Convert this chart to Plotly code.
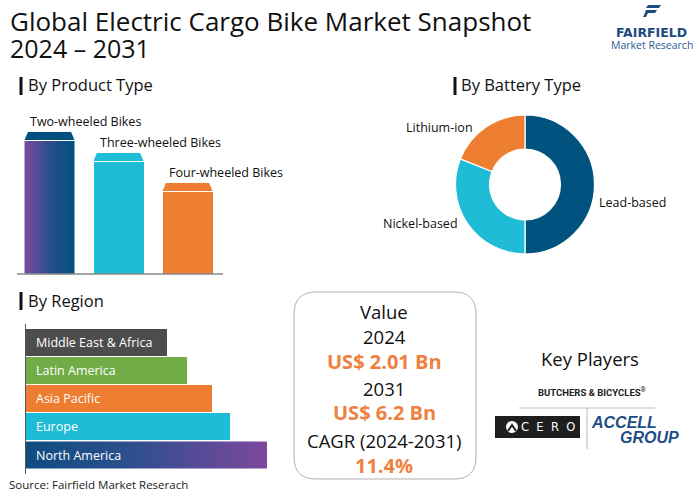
import plotly.graph_objects as go

W, H = 700, 491
FONT = "Open Sans"

# ---------------- data ----------------
product_types = ["Two-wheeled Bikes", "Three-wheeled Bikes", "Four-wheeled Bikes"]
product_values = [142, 121, 91]
product_colors = ["#02507F", "#1FBCD8", "#ED7D31"]

battery_types = ["Lead-based", "Nickel-based", "Lithium-ion"]
battery_values = [50, 31, 19]
battery_colors = ["#01527F", "#1FBCD8", "#ED7D31"]

regions = ["North America", "Europe", "Asia Pacific", "Latin America", "Middle East & Africa"]
region_values = [241, 204, 186, 161, 141]
region_colors = ["#0F4C81", "#1FBCD8", "#ED7D31", "#70AD47", "#4D4D4D"]

value_labels = ["Value", "2024", "US$ 2.01 Bn", "2031", "US$ 6.2 Bn", "CAGR (2024-2031)", "11.4%"]
value_highlight = [False, False, True, False, True, False, True]


def PX(x):
    return x / W


def PY(y):
    return 1 - y / H


fig = go.Figure()

# ---------------- product type bars ----------------
BW = 0.725
CAP = 9
INSET = 0.05
px_ = list(range(len(product_types)))
body = [v - CAP for v in product_values]
bar_cols = ["rgba(0,0,0,0)"] + product_colors[1:]
fig.add_trace(go.Bar(x=px_, y=body, width=BW, marker=dict(color=bar_cols, line=dict(width=0)),
                     xaxis="x", yaxis="y", showlegend=False, hoverinfo="skip"))
# gradient body of first bar
x0, x1 = px_[0] - BW / 2, px_[0] + BW / 2
fig.add_trace(go.Scatter(x=[x0, x1, x1, x0, x0], y=[0, 0, body[0], body[0], 0], mode="lines",
                         fill="toself", line=dict(width=0),
                         fillgradient=dict(type="horizontal", start=x0, stop=x1,
                                           colorscale=[[0, "#7D4A9F"], [0.55, "#224E8C"], [1, "#02507F"]]),
                         xaxis="x", yaxis="y", showlegend=False, hoverinfo="skip"))
# caps
for i, v in enumerate(product_values):
    a, b = i - BW / 2, i + BW / 2
    fig.add_trace(go.Scatter(x=[a, b, b - INSET, a + INSET, a], y=[v - CAP + 1, v - CAP + 1, v, v, v - CAP + 1],
                             mode="lines", fill="toself", fillcolor=product_colors[i], line=dict(width=0),
                             xaxis="x", yaxis="y", showlegend=False, hoverinfo="skip"))

# ---------------- battery donut ----------------
fig.add_trace(go.Pie(labels=battery_types, values=battery_values, hole=0.51, sort=False,
                     direction="clockwise", rotation=0, textinfo="none",
                     marker=dict(colors=battery_colors, line=dict(color="white", width=1.2)),
                     domain=dict(x=[PX(455.5), PX(594.5)], y=[PY(254), PY(115)]),
                     showlegend=False, hoverinfo="label+percent"))

# ---------------- region bars ----------------
ry = list(range(len(regions)))
rcols = ["rgba(0,0,0,0)"] + region_colors[1:]
RBW = 0.955
fig.add_trace(go.Bar(x=region_values, y=ry, orientation="h", width=RBW,
                     marker=dict(color=rcols, line=dict(width=0)),
                     xaxis="x2", yaxis="y2", showlegend=False, hoverinfo="skip"))
na = region_values[0]
fig.add_trace(go.Scatter(x=[0, na, na, 0, 0], y=[-RBW / 2, -RBW / 2, RBW / 2, RBW / 2, -RBW / 2],
                         mode="lines", fill="toself", line=dict(width=0),
                         fillgradient=dict(type="horizontal", start=0, stop=na,
                                           colorscale=[[0, "#0F4C81"], [0.45, "#2E4F8E"], [1, "#7E479E"]]),
                         xaxis="x2", yaxis="y2", showlegend=False, hoverinfo="skip"))

annotations = []
for i, r in enumerate(regions):
    annotations.append(dict(x=0, y=i, xref="x2", yref="y2", text=r, showarrow=False, xanchor="left",
                            xshift=8, yanchor="middle",
                            font=dict(family=FONT, size=12.5, color="white")))

for i, t in enumerate(product_types):
    annotations.append(dict(x=i - BW / 2, y=product_values[i], xref="x", yref="y", text=t, showarrow=False,
                            xanchor="left", xshift=4, yanchor="middle", yshift=11,
                            font=dict(family=FONT, size=12.5, color="#111")))


def txt(x, y, s, size, color="#111", anchor="left", family=FONT):
    annotations.append(dict(x=PX(x), y=PY(y), xref="paper", yref="paper", text=s, showarrow=False,
                            xanchor=anchor, yanchor="middle", font=dict(family=family, size=size, color=color)))


# title
txt(8, 21, "Global Electric Cargo Bike Market Snapshot", 26)
txt(8, 48, "2024 – 2031", 25)

# logo
txt(651, 32, "<b>FAIRFIELD</b>", 12.5, "#1C4B82", "center", "DejaVu Sans")
txt(652, 44.5, "Market Research", 10.5, "#2B5D91", "center")

# section headers
txt(26, 85, "By Product Type", 16.5)
txt(459, 85, "By Battery Type", 16.5)
txt(26, 300, "By Region", 16.5)

# donut labels
txt(404, 128, "Lithium-ion", 12.5)
txt(597, 202, "Lead-based", 12.5)
txt(381, 223, "Nickel-based", 12.5)

# value box texts
vys = [311.5, 336.5, 361, 388, 412.5, 440, 465]
for s, hl, yy in zip(value_labels, value_highlight, vys):
    if hl:
        txt(384, yy, "<b>" + s + "</b>", 20, "#EE8040", "center")
    else:
        txt(384, yy, s, 18.5, "#111", "center")

# key players
txt(590, 358, "Key Players", 18.5, "#111", "center")
txt(592, 392, "<b>BUTCHERS &amp; BICYCLES</b><sup>®</sup>", 9.5, "#222", "center", "Roboto")
txt(548, 427, "C  E  R  O", 11.5, "white", "center", "DejaVu Sans")
txt(589, 422.5, "<b><i>ACCELL</i></b>", 16, "#1E4E87", "left", "Liberation Sans")
txt(681, 437.5, "<b><i>GROUP</i></b>", 16, "#1E4E87", "right", "Liberation Sans")

# source
txt(7, 484, "Source: Fairfield Market Reserach", 11.5, "#222")

shapes = []
# header bars
for (x, y0, y1) in [(21, 77, 95), (455, 77, 95), (21, 292, 310)]:
    shapes.append(dict(type="line", xref="paper", yref="paper", x0=PX(x), x1=PX(x), y0=PY(y0), y1=PY(y1),
                       line=dict(color="#111", width=3)))
# product baseline
shapes.append(dict(type="line", xref="paper", yref="paper", x0=PX(17), x1=PX(223), y0=PY(274), y1=PY(274),
                   line=dict(color="#888", width=1.5)))
# region axis line
shapes.append(dict(type="line", xref="paper", yref="paper", x0=PX(25.5), x1=PX(25.5), y0=PY(324), y1=PY(474),
                   line=dict(color="#555", width=1)))

# rounded value box
bx0, bx1, by0, by1, r = 294, 476, 292, 479, 22


def P(x, y):
    return f"{PX(x):.5f},{PY(y):.5f}"


path = (f"M {P(bx0 + r, by0)} L {P(bx1 - r, by0)} Q {P(bx1, by0)} {P(bx1, by0 + r)} "
        f"L {P(bx1, by1 - r)} Q {P(bx1, by1)} {P(bx1 - r, by1)} L {P(bx0 + r, by1)} "
        f"Q {P(bx0, by1)} {P(bx0, by1 - r)} L {P(bx0, by0 + r)} Q {P(bx0, by0)} {P(bx0 + r, by0)} Z")
shapes.append(dict(type="path", xref="paper", yref="paper", path=path, line=dict(color="#B0B0B0", width=1)))

# key player separators
shapes.append(dict(type="line", xref="paper", yref="paper", x0=PX(519), x1=PX(655), y0=PY(408), y1=PY(408),
                   line=dict(color="#BBBBBB", width=1)))
shapes.append(dict(type="line", xref="paper", yref="paper", x0=PX(587), x1=PX(587), y0=PY(408), y1=PY(449),
                   line=dict(color="#BBBBBB", width=1)))
# CERO box
shapes.append(dict(type="rect", xref="paper", yref="paper", x0=PX(495), x1=PX(580), y0=PY(438), y1=PY(416),
                   fillcolor="#1E1E1E", line=dict(width=0)))
shapes.append(dict(type="circle", xref="paper", yref="paper", x0=PX(506), x1=PX(518), y0=PY(433), y1=PY(421),
                   fillcolor="white", line=dict(width=0)))
shapes.append(dict(type="path", xref="paper", yref="paper",
                   path=f"M {P(508, 431)} L {P(512, 425)} L {P(516, 431)}",
                   line=dict(color="#1E1E1E", width=2)))

# fairfield icon
shapes.append(dict(type="path", xref="paper", yref="paper",
                   path=f"M {P(648, 5)} L {P(661, 5)} L {P(659, 8)} L {P(646, 8)} Z",
                   fillcolor="#1C4B82", line=dict(width=0)))
shapes.append(dict(type="path", xref="paper", yref="paper",
                   path=f"M {P(646, 10)} L {P(657, 10)} L {P(655, 13)} L {P(645, 13)} Z",
                   fillcolor="#1C4B82", line=dict(width=0)))
shapes.append(dict(type="path", xref="paper", yref="paper",
                   path=f"M {P(645, 13)} L {P(648, 13)} L {P(646, 17)} L {P(643, 17)} Z",
                   fillcolor="#1C4B82", line=dict(width=0)))

hidden = dict(visible=False, fixedrange=True)
fig.update_layout(
    width=W, height=H, margin=dict(l=0, r=0, t=0, b=0),
    paper_bgcolor="white", plot_bgcolor="rgba(0,0,0,0)",
    font=dict(family=FONT),
    bargap=0,
    xaxis=dict(domain=[PX(17), PX(223)], range=[-0.471, 2.514], anchor="y", **hidden),
    yaxis=dict(domain=[PY(274), PY(110)], range=[0, 164], anchor="x", **hidden),
    xaxis2=dict(domain=[PX(26), PX(286)], range=[0, 260], anchor="y2", **hidden),
    yaxis2=dict(domain=[PY(469.1), PY(328.3)], range=[-0.5, 4.5], anchor="x2", **hidden),
    annotations=annotations, shapes=shapes,
)

fig.write_html("out.html", config={"displayModeBar": False},
               post_script="document.body.style.margin='0';")
